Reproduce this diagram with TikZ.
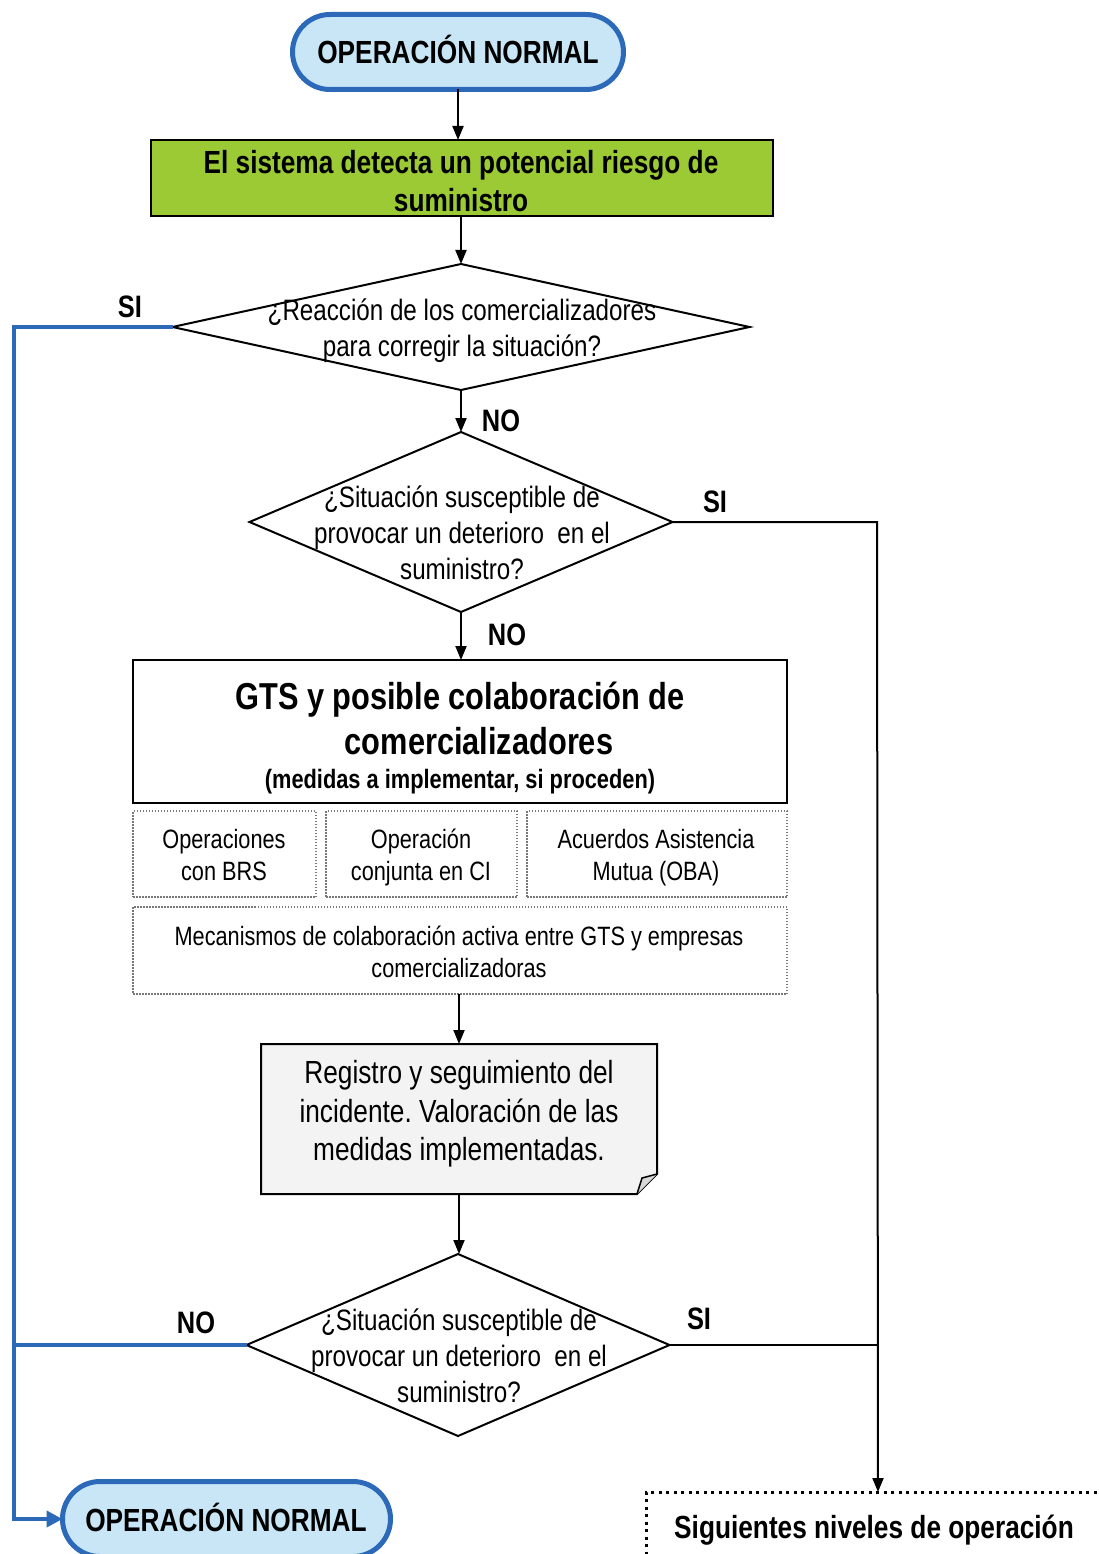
\documentclass[tikz,border=0pt]{standalone}
\usepackage{fontspec}
\setmainfont{Liberation Sans}[FakeStretch=0.82]
\usetikzlibrary{shapes.geometric,arrows.meta}
\frenchspacing

\definecolor{pillfill}{RGB}{200,230,246}
\definecolor{pillblue}{RGB}{45,105,185}
\definecolor{alertgreen}{RGB}{155,202,52}
\definecolor{notegray}{RGB}{243,243,243}
\definecolor{foldgray}{RGB}{215,215,215}
\definecolor{dotgray}{RGB}{120,120,120}

\begin{document}
\begin{tikzpicture}[x=1pt,y=-1pt,
  every node/.style={inner sep=0pt, outer sep=0pt},
  pill/.style={draw=pillblue, line width=5pt, fill=pillfill,
    rounded corners=37.5pt, minimum height=75pt},
  alertbox/.style={draw, line width=2pt, fill=alertgreen},
  plainbox/.style={draw, line width=2pt},
  decision/.style={diamond, draw, line width=2pt},
  optbox/.style={draw=dotgray, line width=1.5pt, dash pattern=on 1.5pt off 1.5pt},
  nextbox/.style={draw, line width=3pt, dash pattern=on 3pt off 4.5pt},
  flow/.style={line width=2pt, -{Triangle[length=14pt,width=11pt]}},
  flowline/.style={line width=2pt},
  backflow/.style={draw=pillblue, line width=4pt},
  backarrow/.style={draw=pillblue, line width=4pt, -{Triangle[length=16pt,width=16pt]}},
  termtxt/.style={font=\fontsize{32}{38}\selectfont\bfseries, text height=23pt, text depth=0pt},
  boldtxt/.style={font=\fontsize{32}{38}\selectfont\bfseries, align=center},
  answer/.style={font=\fontsize{31}{36}\selectfont\bfseries, text height=22pt, text depth=0pt},
  qtxt/.style={font=\fontsize{29.5}{36}\selectfont, align=center},
  opttxt/.style={font=\fontsize{26.5}{32}\selectfont, align=center},
  notetxt/.style={font=\fontsize{32}{38.5}\selectfont, align=center}
]
\useasboundingbox (0,0) rectangle (1099,1554);

% start terminal
\node[pill, minimum width=331pt] (start) at (458,52) {};
\node[termtxt] (startt) at (458,52) {OPERACIÓN NORMAL};

% detection box
\node[alertbox, minimum width=622pt, minimum height=76pt] (detect) at (462,178) {};
\node[boldtxt] (detectt) at (461,181) {El sistema detecta un potencial riesgo de\\suministro};

% first decision
\node[decision, minimum width=577pt, minimum height=126pt] (d1) at (461,327) {};
\node[qtxt] (d1t) at (462,331) {¿Reacción de los comercializadores\\para corregir la situación?};

% second decision
\node[decision, minimum width=423pt, minimum height=180pt] (d2) at (461,522) {};
\node[qtxt] (d2t) at (462,533) {¿Situación susceptible de\\provocar un deterioro~ en el\\suministro?};

% GTS measures box
\node[plainbox, minimum width=654pt, minimum height=143pt] (gts) at (460,731.5) {};
\node[font=\fontsize{37.5}{45}\selectfont\bfseries, align=center] (gtst) at (460,718)
  {GTS y posible colaboración de\\\hspace*{38pt}comercializadores};
\node[font=\fontsize{26.6}{32}\selectfont\bfseries, text height=19pt, text depth=0pt] (gtss) at (460,779)
  {(medidas a implementar, si proceden)};

% optional measures
\node[optbox, minimum width=183pt, minimum height=86pt] (brs) at (224.5,854) {};
\node[opttxt] (brst) at (224,855) {Operaciones\\con BRS};
\node[optbox, minimum width=191pt, minimum height=86pt] (ci) at (421.5,854) {};
\node[opttxt] (cit) at (421,857) {Operación\\conjunta en CI};
\node[optbox, minimum width=260pt, minimum height=86pt] (oba) at (657,854) {};
\node[opttxt] (obat) at (656,858) {Acuerdos Asistencia\\Mutua (OBA)};
\node[optbox, minimum width=654pt, minimum height=87pt] (mec) at (460,950.5) {};
\node[opttxt] (mect) at (459,952) {Mecanismos de colaboración activa entre GTS y empresas\\comercializadoras};

% record note with folded corner
\node[minimum width=396pt, minimum height=150pt] (reg) at (459,1119) {};
\draw[line width=2pt, fill=notegray]
  (reg.north west) -- (reg.north east) -- ([yshift=20pt]reg.south east)
  -- ([xshift=-20pt]reg.south east) -- (reg.south west) -- cycle;
\draw[line width=1.5pt, fill=foldgray]
  ([xshift=-20pt]reg.south east) -- ([xshift=-15pt,yshift=16pt]reg.south east)
  -- ([yshift=20pt]reg.south east);
\node[notetxt] (regt) at (459,1114) {Registro y seguimiento del\\incidente. Valoración de las\\medidas implementadas.};

% third decision
\node[decision, minimum width=423pt, minimum height=182pt] (d3) at (458,1345) {};
\node[qtxt] (d3t) at (459,1356) {¿Situación susceptible de\\provocar un deterioro~ en el\\suministro?};

% end terminal
\node[pill, minimum width=328pt] (stop) at (226.5,1519) {};
\node[termtxt] (stopt) at (226,1520) {OPERACIÓN NORMAL};

% next operating levels
\node[nextbox, minimum width=464pt, minimum height=130pt] (next) at (878,1557) {};
\node[termtxt] (nextt) at (874,1527) {Siguientes niveles de operación};

% corner points of the return lines
\coordinate (bl1) at (14,327);
\coordinate (bl2) at (14,1519);
\coordinate (bl3) at (14,1345);
\coordinate (br1) at (877,522);
\coordinate (br2) at (877,1345);

% main flow
\draw[flow] (start.south) -- (start.south |- detect.north);
\draw[flow] (d1.north |- detect.south) -- (d1.north);
\draw[flow] (d1.south) -- (d2.north);
\draw[flow] (d2.south) -- (d2.south |- gts.north);
\draw[flow] (reg.north |- mec.south) -- (reg.north);
\draw[flow] (reg.south) -- (reg.south |- d3.north);

% return to normal operation
\draw[backarrow] (d1.west) -- (bl1) -- (bl2) -- (stop.west);
\draw[backflow] (d3.west) -- (bl3);

% escalation
\draw[flow] (d2.east) -- (br1) -- (next.north);
\draw[flowline] (d3.east) -- (br2);

% answer labels
\node[answer] (a1) at (130,306) {SI};
\node[answer] (a2) at (501,420) {NO};
\node[answer] (a3) at (715,501) {SI};
\node[answer] (a4) at (507,634) {NO};
\node[answer] (a5) at (196,1322) {NO};
\node[answer] (a6) at (699,1318) {SI};
\end{tikzpicture}
\end{document}
